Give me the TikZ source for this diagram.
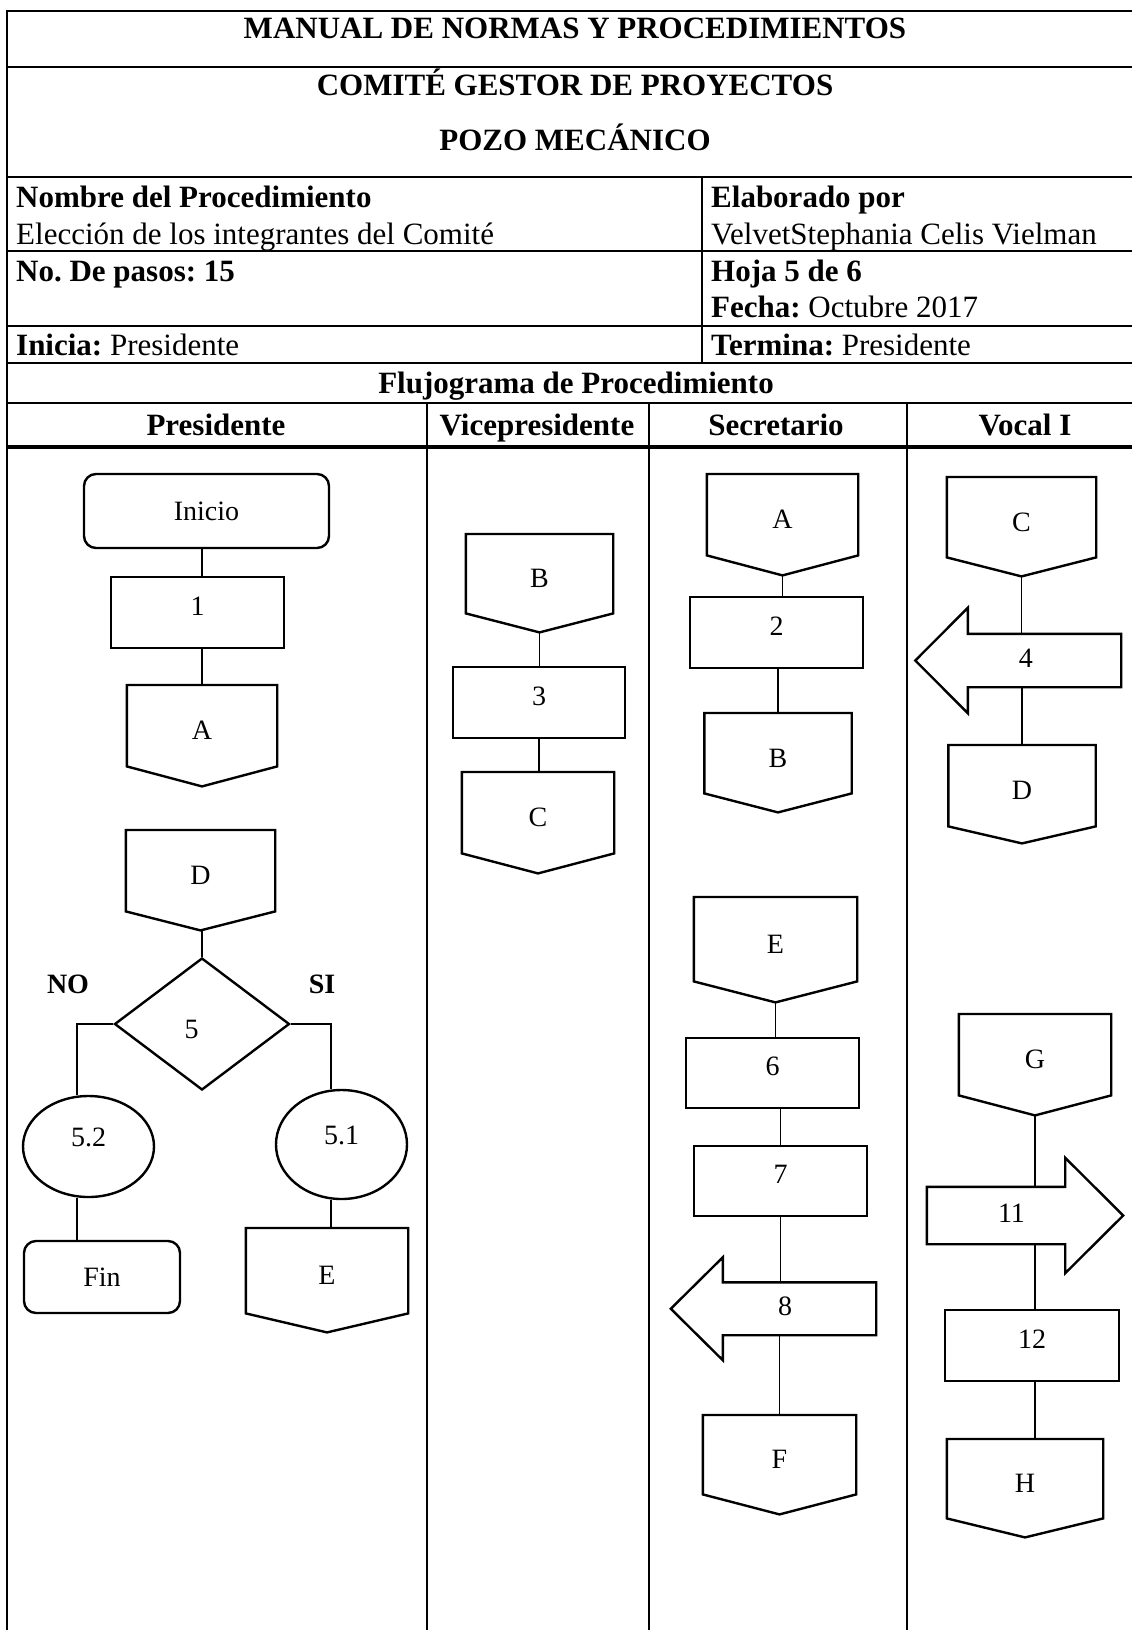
\documentclass[tikz,border=0pt]{standalone}
\usepackage{fontspec}
\setmainfont{Liberation Serif}
\usetikzlibrary{shapes.geometric,calc}
\frenchspacing
\newcommand{\hdfont}{\fontsize{31}{37}\selectfont}
\newcommand{\flfont}{\fontsize{28}{34}\selectfont}
\tikzset{
  tbl/.style={line width=2pt},
  lanediv/.style={line width=1.5pt},
  thickrule/.style={line width=3.5pt},
  shp/.style={line width=2.4pt, line join=miter},
  conn/.style={line width=1.2pt},
  hd/.style={inner sep=0pt, font=\hdfont},
  boxnode/.style={draw, shp, rectangle, inner sep=0pt, font=\flfont, text height=19pt, text depth=14pt},
  termnode/.style={draw, shp, rectangle, rounded corners=12pt, inner sep=0pt, font=\flfont, text height=19pt, text depth=0pt},
  offrect/.style={rectangle, inner sep=0pt, font=\flfont, text height=28pt, text depth=0pt},
  arrbody/.style={rectangle, inner sep=0pt, font=\flfont, text height=19pt, text depth=6pt},
  ellnode/.style={draw, shp, ellipse, inner sep=0pt, font=\flfont, text height=19pt, text depth=19pt},
  decnode/.style={draw, shp, diamond, inner sep=0pt, font=\flfont, text height=29pt, text depth=0pt},
  lbl/.style={inner sep=0pt, font=\flfont\bfseries}
}
% name, center x, top y, width, rect height, tip depth, text
\newcommand{\offpg}[7]{%
  \node[offrect, minimum width=#4pt, minimum height=#5pt, anchor=north] (#1) at (#2,#3) {#7};
  \draw[shp] (#1.north west) -- (#1.north east) -- (#1.south east) -- ($(#1.south)+(0,#6)$) coordinate (#1-tip) -- (#1.south west) -- cycle;
}
% arrow: name, center x, center y, total length, body height, head extend, head length, text
\newcommand{\larrow}[8]{%
  \node[arrbody, minimum width=#4pt, minimum height=#5pt] (#1) at (#2,#3) {#8};
  \draw[shp] (#1.north east) -- ($(#1.north west)+(#7,0)$) -- ++(0,-#6) -- (#1.west) -- ($(#1.south west)+(#7,#6)$) -- ++(0,-#6) -- (#1.south east) -- cycle;
}
\newcommand{\rarrow}[8]{%
  \node[arrbody, minimum width=#4pt, minimum height=#5pt] (#1) at (#2,#3) {#8};
  \draw[shp] (#1.north west) -- ($(#1.north east)+(-#7,0)$) -- ++(0,-#6) -- (#1.east) -- ($(#1.south east)+(-#7,#6)$) -- ++(0,-#6) -- (#1.south west) -- cycle;
}
\begin{document}
\begin{tikzpicture}[x=1pt,y=-1pt]
\useasboundingbox[fill=white] (0,0) rectangle (1132,1630);

% ---------- table frame ----------
\draw[tbl] (1132,11) -- (7,11) -- (7,1630);
\draw[tbl] (7,67) -- (1132,67);
\draw[tbl] (7,177) -- (1132,177);
\draw[tbl] (7,251) -- (1132,251);
\draw[tbl] (7,326) -- (1132,326);
\draw[tbl] (7,363) -- (1132,363);
\draw[tbl] (7,403) -- (1132,403);
\draw[thickrule] (7,447) -- (1132,447);
\draw[tbl] (702,177) -- (702,363);
\draw[lanediv] (427,403) -- (427,1630);
\draw[lanediv] (649,403) -- (649,1630);
\draw[lanediv] (907,403) -- (907,1630);

% ---------- header texts ----------
\node[hd, anchor=base] (t1) at (575,38) {\bfseries MANUAL DE NORMAS Y PROCEDIMIENTOS};
\node[hd, anchor=base] (t2) at (575,95) {\bfseries COMITÉ GESTOR DE PROYECTOS};
\node[hd, anchor=base] (t3) at (575,150) {\bfseries POZO MECÁNICO};
\node[hd, anchor=base west] (t4) at (16,207) {\bfseries Nombre del Procedimiento};
\node[hd, anchor=base west] (t5) at (16,244) {Elección de los integrantes del Comité};
\node[hd, anchor=base west] (t6) at (16,281) {\bfseries No. De pasos: 15};
\node[hd, anchor=base west] (t7) at (16,355) {\textbf{Inicia:} Presidente};
\node[hd, anchor=base west] (t8) at (711,207) {\bfseries Elaborado por};
\node[hd, anchor=base west] (t9) at (711,244) {VelvetStephania Celis Vielman};
\node[hd, anchor=base west] (t10) at (711,281) {\bfseries Hoja 5 de 6};
\node[hd, anchor=base west] (t11) at (711,317) {\textbf{Fecha:} Octubre 2017};
\node[hd, anchor=base west] (t12) at (711,355) {\textbf{Termina:} Presidente};
\node[hd, anchor=base] (t13) at (576,393) {\bfseries Flujograma de Procedimiento};
\node[hd, anchor=base] (h1) at (216,435) {\bfseries Presidente};
\node[hd, anchor=base] (h2) at (537,435) {\bfseries Vicepresidente};
\node[hd, anchor=base] (h3) at (776,435) {\bfseries Secretario};
\node[hd, anchor=base] (h4) at (1025,435) {\bfseries Vocal I};

% ---------- Presidente ----------
\node[termnode, minimum width=245pt, minimum height=74pt] (ini) at (206.5,511) {Inicio};
\node[boxnode, minimum width=173pt, minimum height=71pt] (b1) at (197.5,612.5) {1};
\offpg{pA}{202}{685}{150}{81}{20}{A}
\offpg{pD}{200.5}{830}{149}{81}{19}{D}
\node[decnode, minimum width=175pt, minimum height=132pt] (d5) at (202,1024) {5\hspace*{21pt}};
\node[lbl] (no) at (68,984) {NO};
\node[lbl] (si) at (322,984) {SI};
\node[ellnode, minimum width=131pt, minimum height=101pt] (e52) at (88.5,1146.5) {5.2};
\node[ellnode, minimum width=131pt, minimum height=109pt] (e51) at (341.5,1144.5) {5.1};
\node[termnode, minimum width=156pt, minimum height=72pt] (fin) at (102,1277) {Fin};
\offpg{pE1}{327}{1228}{162}{85}{19}{E}
\coordinate (nob) at (77,1024);
\coordinate (sib) at (331,1024);

\draw[conn] (pA.north |- ini.south) -- (pA.north |- b1.north);
\draw[conn] (pA.north |- b1.south) -- (pA.north);
\draw[conn] (d5.north |- pD-tip) -- (d5.north);
\draw[conn] (d5.west) -- (nob) -- (nob |- e52.north);
\draw[conn] (e52.south -| nob) -- (fin.north -| nob);
\draw[conn] (d5.east) -- (sib) -- (sib |- e51.north);
\draw[conn] (e51.south -| sib) -- (pE1.north -| sib);

% ---------- Vicepresidente ----------
\offpg{pB2}{539.5}{534}{147}{79}{19}{B}
\node[boxnode, minimum width=172pt, minimum height=71pt] (b3) at (539,702.5) {3};
\offpg{pC2}{538}{772}{152}{81}{20}{C}
\draw[conn] (pB2-tip) -- (pB2-tip |- b3.north);
\draw[conn] (b3.south) -- (b3.south |- pC2.north);

% ---------- Secretario ----------
\offpg{pA2}{782.5}{474}{151}{81}{20}{A}
\node[boxnode, minimum width=173pt, minimum height=71pt] (b2) at (776.5,632.5) {2};
\offpg{pB3}{778}{713}{147}{80}{19}{B}
\draw[conn] (pA2-tip) -- (pA2-tip |- b2.north);
\draw[conn] (pB3.north |- b2.south) -- (pB3.north);

\offpg{pE2}{775.5}{897}{163}{84}{21}{E}
\node[boxnode, minimum width=173pt, minimum height=70pt] (b6) at (772.5,1073) {6};
\node[boxnode, minimum width=173pt, minimum height=70pt] (b7) at (780.5,1181) {7};
\larrow{a8}{773.5}{1308.75}{205}{52.5}{25}{52}{\hspace*{23pt}8}
\offpg{pF}{779.5}{1415}{153}{79}{20}{F}
\draw[conn] (pE2-tip) -- (pE2-tip |- b6.north);
\draw[conn] (b7.north |- b6.south) -- (b7.north);
\draw[conn] (b7.south) -- (b7.south |- a8.north);
\draw[conn] (pF.north |- a8.south) -- (pF.north);

% ---------- Vocal I ----------
\offpg{pC3}{1021.5}{477}{149}{80}{19}{C}
\larrow{a4}{1018.25}{660.5}{205.5}{53}{26}{52.5}{\hspace*{15pt}4}
\offpg{pD3}{1022}{745}{147}{81}{17}{D}
\draw[conn] (pC3-tip) -- (pC3-tip |- a4.north);
\draw[conn] (pD3.north |- a4.south) -- (pD3.north);

\offpg{pG}{1035}{1014}{152}{81}{20}{G}
\rarrow{a11}{1025}{1215.5}{196}{57}{29}{58}{11\hspace*{27pt}}
\node[boxnode, minimum width=174pt, minimum height=71pt] (b12) at (1032,1345.5) {12};
\offpg{pH}{1025}{1439}{156}{79}{19}{H}
\draw[conn] (pG-tip) -- (pG-tip |- a11.north);
\draw[conn] (pG-tip |- a11.south) -- (pG-tip |- b12.north);
\draw[conn] (pG-tip |- b12.south) -- (pG-tip |- pH.north);
\end{tikzpicture}
\end{document}
